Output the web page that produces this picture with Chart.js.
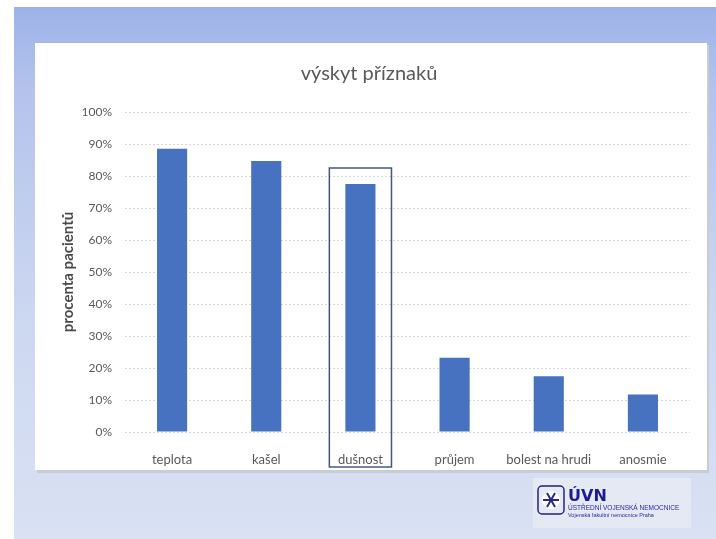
<!DOCTYPE html>
<html>
<head>
<meta charset="utf-8">
<script src="https://cdn.jsdelivr.net/npm/chart.js@4/dist/chart.umd.min.js"></script>
<style>
html,body{margin:0;padding:0;background:#fff;}
#wrap{position:relative;width:716px;height:539px;}
canvas{display:block;}
</style>
</head>
<body>
<div id="wrap"><canvas id="c" width="716" height="539"></canvas></div>
<script>
const chartTitle = "výskyt příznaků";
const yAxisTitle = "procenta pacientů";
const categories = ["teplota", "kašel", "dušnost", "průjem", "bolest na hrudi", "anosmie"];
const values = [0.885, 0.847, 0.775, 0.232, 0.174, 0.117];
const yTicks = [0, 0.1, 0.2, 0.3, 0.4, 0.5, 0.6, 0.7, 0.8, 0.9, 1.0];
const highlightedIndex = 2;
const highlightTop = 0.825;
const logoTitle = "ÚVN";
const logoLine1 = "ÚSTŘEDNÍ VOJENSKÁ NEMOCNICE";
const logoLine2 = "Vojenská fakultní nemocnice Praha";

const FONT = "Lato, 'Open Sans', sans-serif";

const backdrop = {
  id: 'backdrop',
  beforeDraw(chart) {
    const ctx = chart.ctx;
    ctx.save();
    ctx.fillStyle = '#ffffff';
    ctx.fillRect(0, 0, 716, 539);
    const g = ctx.createLinearGradient(0, 7, 0, 539);
    g.addColorStop(0, '#9db2e9');
    g.addColorStop(0.15, '#b3c3ec');
    g.addColorStop(0.6, '#cdd8f1');
    g.addColorStop(1, '#d9e1f3');
    ctx.fillStyle = g;
    ctx.fillRect(14, 7, 702, 532);
    // panel shadow
    ctx.fillStyle = '#c9ccd2';
    ctx.fillRect(37, 45, 672, 428);
    ctx.fillStyle = '#ffffff';
    ctx.fillRect(35, 43, 672, 427);
    // title
    ctx.fillStyle = '#595959';
    ctx.font = "20px " + FONT;
    ctx.textAlign = 'center';
    ctx.textBaseline = 'middle';
    ctx.fillText(chartTitle, 369, 74);
    // logo
    ctx.fillStyle = '#e4e9f4';
    ctx.fillRect(533, 478, 158, 50);
    ctx.strokeStyle = '#22227a';
    ctx.lineWidth = 1.5;
    ctx.beginPath();
    if (ctx.roundRect) ctx.roundRect(538, 486, 26, 28, 4); else ctx.rect(538, 486, 26, 28);
    ctx.stroke();
    ctx.fillStyle = '#ffffff';
    ctx.beginPath();
    ctx.arc(551, 500, 9, 0, Math.PI * 2);
    ctx.fill();
    ctx.strokeStyle = '#2a2a8a';
    ctx.lineWidth = 2;
    for (let i = 0; i < 6; i++) {
      const a = i * Math.PI / 3;
      ctx.beginPath();
      ctx.moveTo(551, 500);
      ctx.lineTo(551 + 8 * Math.cos(a), 500 + 8 * Math.sin(a));
      ctx.stroke();
    }
    ctx.textAlign = 'left';
    ctx.textBaseline = 'alphabetic';
    ctx.fillStyle = '#1c1c8c';
    ctx.font = "bold 16px 'DejaVu Sans', sans-serif";
    ctx.fillText(logoTitle, 568, 501);
    ctx.fillStyle = '#2a2a9a';
    ctx.font = "6.5px 'Liberation Sans', sans-serif";
    ctx.fillText(logoLine1, 568, 510);
    ctx.font = "5.5px 'Liberation Sans', sans-serif";
    ctx.fillText(logoLine2, 568, 517);
    ctx.restore();
  },
  afterDatasetsDraw(chart) {
    const ctx = chart.ctx;
    const xs = chart.scales.x, ys = chart.scales.y;
    const cx = xs.getPixelForValue(highlightedIndex);
    const half = xs.width / categories.length / 2 * 0.66;
    const top = ys.getPixelForValue(highlightTop);
    const bottom = chart.chartArea.bottom + 35;
    ctx.save();
    ctx.strokeStyle = '#44587e';
    ctx.lineWidth = 1.5;
    ctx.strokeRect(cx - half, top, half * 2, bottom - top);
    ctx.restore();
  }
};

new Chart(document.getElementById('c'), {
  type: 'bar',
  data: {
    labels: categories,
    datasets: [{
      data: values,
      backgroundColor: '#4672c0',
      borderWidth: 0,
      categoryPercentage: 1,
      barPercentage: 0.32
    }]
  },
  options: {
    responsive: false,
    animation: false,
    devicePixelRatio: 1,
    layout: { padding: { left: 0, top: 112, right: 26, bottom: 0 } },
    plugins: { legend: { display: false }, title: { display: false }, tooltip: { enabled: false } },
    scales: {
      x: {
        grid: { display: false },
        border: { display: false },
        ticks: { color: '#595959', font: { family: FONT, size: 13 }, padding: 12, maxRotation: 0 },
        afterFit(s) { s.height = 107; }
      },
      y: {
        min: 0, max: 1,
        afterBuildTicks(s) { s.ticks = yTicks.map(v => ({ value: v })); },
        grid: { color: '#d6d6d6', lineWidth: 1, drawTicks: false },
        border: { display: false, dash: [2, 2] },
        ticks: {
          color: '#595959', font: { family: FONT, size: 12 }, padding: 13,
          callback: v => Math.round(v * 100) + '%'
        },
        title: {
          display: true, text: yAxisTitle, color: '#4a4a4a',
          font: { family: FONT, size: 15, weight: 'bold' },
          padding: { top: 59, bottom: 0 }
        },
        afterFit(s) { s.width = 125; }
      }
    }
  },
  plugins: [backdrop]
});
</script>
</body>
</html>
